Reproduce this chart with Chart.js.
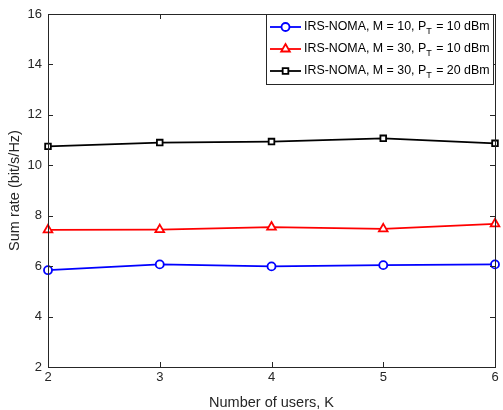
<!DOCTYPE html>
<html>
<head>
<meta charset="utf-8">
<script src="https://cdn.jsdelivr.net/npm/chart.js@4"></script>
<style>
  html, body { margin: 0; padding: 0; background: #fff; }
  #wrap { width: 503px; height: 410px; }
</style>
</head>
<body>
<div id="wrap"><canvas id="rateChart" width="503" height="410"></canvas></div>
<script>
// number of users K
const users = [2, 3, 4, 5, 6];

// sum rate (bit/s/Hz)
const rateM10P10 = [5.84, 6.07, 5.99, 6.04, 6.07];
const rateM30P10 = [7.44, 7.45, 7.55, 7.48, 7.68];
const rateM30P20 = [10.75, 10.90, 10.94, 11.07, 10.87];

const yTicks = [2, 4, 6, 8, 10, 12, 14, 16];

// legend labels: before subscript, subscript, after subscript
const labelsHead = ['IRS-NOMA, M = 10, P', 'IRS-NOMA, M = 30, P', 'IRS-NOMA, M = 30, P'];
const labelsSub = ['T', 'T', 'T'];
const labelsTail = [' = 10 dBm', ' = 10 dBm', ' = 20 dBm'];

const axisColor = '#262626';
const font = 'Liberation Sans, Arial, Helvetica, sans-serif';

const toPoints = vals => users.map((k, i) => ({ x: k, y: vals[i] }));

// box around the plot + inward ticks, like matlab
const boxPlugin = {
  id: 'box',
  afterDraw(chart) {
    const { ctx, chartArea: a, scales } = chart;
    ctx.save();
    ctx.strokeStyle = axisColor;
    ctx.lineWidth = 1;
    ctx.strokeRect(a.left + 0.5, a.top + 0.5, a.right - a.left, a.bottom - a.top);
    ctx.beginPath();
    users.forEach(k => {
      const px = Math.round(scales.x.getPixelForValue(k)) + 0.5;
      ctx.moveTo(px, a.bottom); ctx.lineTo(px, a.bottom - 5);
      ctx.moveTo(px, a.top); ctx.lineTo(px, a.top + 5);
    });
    yTicks.forEach(v => {
      const py = Math.round(scales.y.getPixelForValue(v)) + 0.5;
      ctx.moveTo(a.left, py); ctx.lineTo(a.left + 5, py);
      ctx.moveTo(a.right, py); ctx.lineTo(a.right - 5, py);
    });
    ctx.stroke();
    ctx.restore();
  }
};

// legend with subscripts
const legendPlugin = {
  id: 'subLegend',
  afterDraw(chart) {
    const { ctx, chartArea: a } = chart;
    const left = 266, top = a.top, right = a.right - 2, bottom = 84;
    ctx.save();
    ctx.fillStyle = '#fff';
    ctx.fillRect(left, top, right - left, bottom - top);
    ctx.strokeStyle = axisColor;
    ctx.lineWidth = 1;
    ctx.strokeRect(left + 0.5, top + 0.5, right - left, bottom - top);

    chart.data.datasets.forEach((ds, i) => {
      const y = 27 + i * 22;
      ctx.strokeStyle = ds.borderColor;
      ctx.lineWidth = ds.borderWidth;
      ctx.beginPath();
      ctx.moveTo(270, y); ctx.lineTo(301, y);
      ctx.stroke();
      ctx.fillStyle = '#fff';
      ctx.lineWidth = ds.pointBorderWidth;
      Chart.helpers.drawPoint(ctx, {
        pointStyle: ds.pointStyle,
        radius: ds.pointRadius,
        borderWidth: ds.pointBorderWidth,
        rotation: 0
      }, 285.5, y);

      ctx.fillStyle = '#000';
      ctx.textBaseline = 'middle';
      ctx.font = '12.4px ' + font;
      let x = 304;
      ctx.fillText(labelsHead[i], x, y);
      x += ctx.measureText(labelsHead[i]).width;
      ctx.font = '9px ' + font;
      ctx.fillText(labelsSub[i], x, y + 5);
      x += ctx.measureText(labelsSub[i]).width + 1;
      ctx.font = '12.4px ' + font;
      ctx.fillText(labelsTail[i], x, y);
    });
    ctx.restore();
  }
};

const ctx = document.getElementById('rateChart').getContext('2d');

new Chart(ctx, {
  type: 'line',
  data: {
    datasets: [
      {
        label: labelsHead[0] + labelsSub[0] + labelsTail[0],
        data: toPoints(rateM10P10),
        borderColor: '#0000ff',
        borderWidth: 1.8,
        pointStyle: 'circle',
        pointRadius: 4,
        pointBorderWidth: 1.8,
        pointBackgroundColor: '#fff',
        clip: false
      },
      {
        label: labelsHead[1] + labelsSub[1] + labelsTail[1],
        data: toPoints(rateM30P10),
        borderColor: '#ff0000',
        borderWidth: 1.8,
        pointStyle: 'triangle',
        pointRadius: 5,
        pointBorderWidth: 1.8,
        pointBackgroundColor: '#fff',
        clip: false
      },
      {
        label: labelsHead[2] + labelsSub[2] + labelsTail[2],
        data: toPoints(rateM30P20),
        borderColor: '#000000',
        borderWidth: 1.8,
        pointStyle: 'rect',
        pointRadius: 4,
        pointBorderWidth: 1.8,
        pointBackgroundColor: '#fff',
        clip: false
      }
    ]
  },
  options: {
    responsive: false,
    animation: false,
    devicePixelRatio: 1,
    layout: { padding: { top: 14, right: 8, left: 0, bottom: 0 } },
    plugins: {
      legend: { display: false },
      tooltip: { enabled: false }
    },
    scales: {
      x: {
        type: 'linear',
        min: 2,
        max: 6,
        afterFit: s => { s.height = 43; },
        afterBuildTicks: s => { s.ticks = users.map(v => ({ value: v })); },
        grid: { display: false, drawTicks: false },
        border: { display: false },
        ticks: { color: axisColor, padding: 3, font: { family: font, size: 13 } },
        title: {
          display: true,
          text: 'Number of users, K',
          color: axisColor,
          font: { family: font, size: 14.5 },
          padding: { top: 0, bottom: -2 }
        }
      },
      y: {
        type: 'linear',
        min: 2,
        max: 16,
        afterFit: s => { s.width = 48; },
        afterBuildTicks: s => { s.ticks = yTicks.map(v => ({ value: v })); },
        grid: { display: false, drawTicks: false },
        border: { display: false },
        ticks: { color: axisColor, padding: 6, font: { family: font, size: 13 } },
        title: {
          display: true,
          text: 'Sum rate (bit/s/Hz)',
          color: axisColor,
          font: { family: font, size: 14.5 },
          padding: { top: 6, bottom: 0 }
        }
      }
    }
  },
  plugins: [boxPlugin, legendPlugin]
});
</script>
</body>
</html>
